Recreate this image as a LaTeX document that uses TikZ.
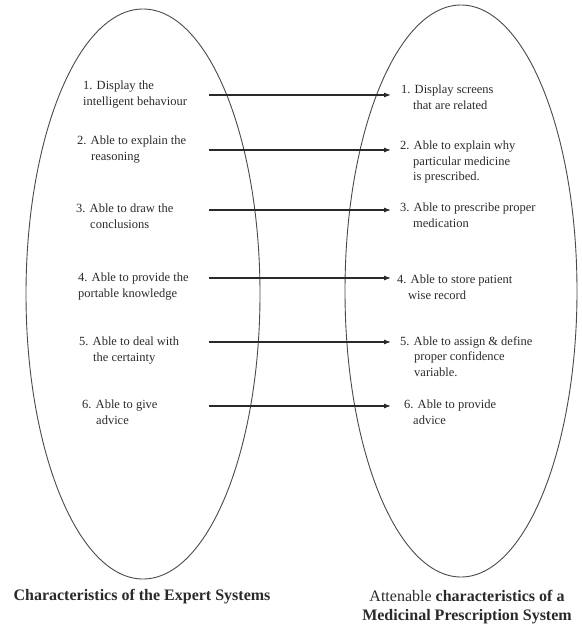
\documentclass[tikz,border=0pt]{standalone}
\usepackage{fontspec}
\setmainfont{Liberation Serif}
\usetikzlibrary{arrows.meta,positioning}
\definecolor{ink}{HTML}{2A2A2A}
\definecolor{rim}{HTML}{4A4A4A}
\tikzset{
  setrim/.style={draw=rim, line width=0.9pt},
  itemtext/.style={anchor=north west, align=left, inner sep=0pt, text=ink,
    font=\fontsize{12.5}{15.5}\selectfont},
  captext/.style={align=center, inner sep=0pt, text=ink,
    font=\fontsize{16}{19}\selectfont\bfseries},
  link/.style={-{Latex[length=7pt,width=5pt]}, line width=1.1pt, draw=ink},
}

\begin{document}
\begin{tikzpicture}[x=1pt,y=-1pt]
  \useasboundingbox (0,0) rectangle (581,626);

  % the two sets
  \draw[setrim] (143,294) ellipse [x radius=117, y radius=285];
  \draw[setrim] (461,291) ellipse [x radius=116, y radius=286];

  % expert system side
  \node[itemtext] (l1) at (83,81) {1. Display the\\intelligent behaviour};
  \node[itemtext] (l2) at (77,136) {2. Able to explain the\\\hspace*{14pt}reasoning};
  \node[itemtext] (l3) at (76,204) {3. Able to draw the\\\hspace*{14pt}conclusions};
  \node[itemtext] (l4) at (78,273) {4. Able to provide the\\portable knowledge};
  \node[itemtext] (l5) at (79,337) {5. Able to deal with\\\hspace*{14pt}the certainty};
  \node[itemtext] (l6) at (82,400) {6. Able to give\\\hspace*{14pt}advice};

  % prescription system side
  \node[itemtext] (r1) at (401,85) {1. Display screens\\\hspace*{12pt}that are related};
  \node[itemtext] (r2) at (400,141) {2. Able to explain why\\\hspace*{13pt}particular medicine\\\hspace*{13pt}is prescribed.};
  \node[itemtext] (r3) at (400,203) {3. Able to prescribe proper\\\hspace*{13pt}medication};
  \node[itemtext] (r4) at (397,275) {4. Able to store patient\\\hspace*{11pt}wise record};
  \node[itemtext] (r5) at (400,336) {5. Able to assign \& define\\\hspace*{14pt}proper confidence\\\hspace*{14pt}variable.};
  \node[itemtext] (r6) at (404,400) {6. Able to provide\\\hspace*{9pt}advice};

  % links between the characteristics
  \foreach \i/\y in {1/95,2/150,3/210,4/278,5/342,6/406}{
    \coordinate (s\i) at (209,\y);
    \coordinate (t\i) at (391,\y);
    \draw[link] (s\i) -- (t\i);
  }

  \node[captext] (lcap) at (142,597) {Characteristics of the Expert Systems};
  \node[captext] (rcap) at (467,607) {{\mdseries Attenable} characteristics of a\\Medicinal Prescription System};
\end{tikzpicture}
\end{document}
